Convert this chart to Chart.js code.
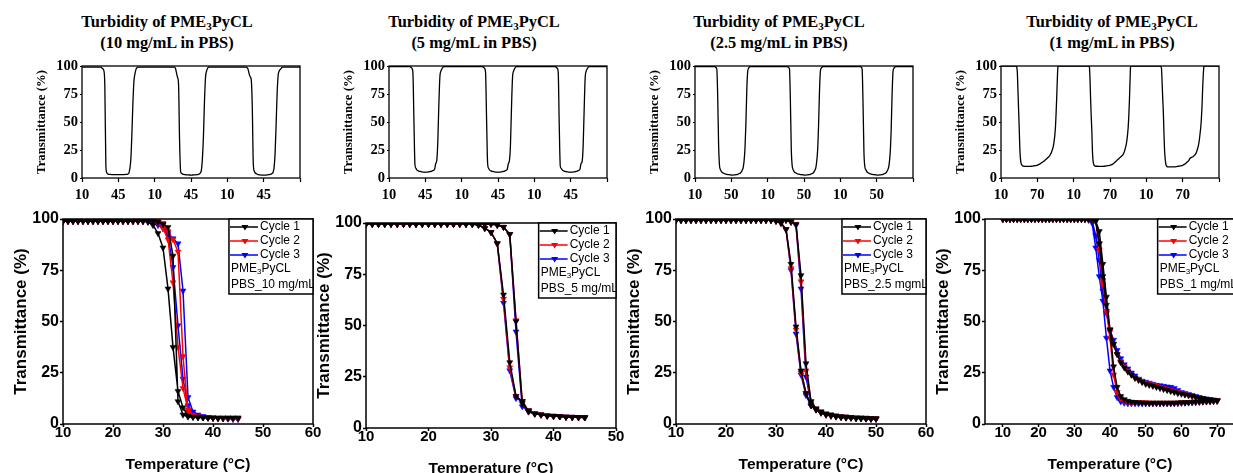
<!DOCTYPE html>
<html>
<head>
<meta charset="utf-8">
<script src="https://cdn.jsdelivr.net/npm/chart.js@4.4.1/dist/chart.umd.min.js"></script>
<style>
body { margin:0; width:1233px; height:473px; overflow:hidden; background:#fff; position:relative; }
canvas { position:absolute; }
.ttl { position:absolute; top:11px; width:300px; text-align:center; color:#000;
       font:bold 16.4px "Liberation Serif", "Times New Roman", serif; line-height:21px; }
.ttl sub { font-size:11px; line-height:0; vertical-align:-3px; }
</style>
</head>
<body>
<div class="ttl" style="left:17px">Turbidity of PME<sub>3</sub>PyCL<br>(10 mg/mL in PBS)</div>
<div class="ttl" style="left:324px">Turbidity of PME<sub>3</sub>PyCL<br>(5 mg/mL in PBS)</div>
<div class="ttl" style="left:629px">Turbidity of PME<sub>3</sub>PyCL<br>(2.5 mg/mL in PBS)</div>
<div class="ttl" style="left:962px">Turbidity of PME<sub>3</sub>PyCL<br>(1 mg/mL in PBS)</div>

<canvas id="top10" width="280" height="150" style="left:30px;top:55px"></canvas>
<canvas id="top5" width="280" height="150" style="left:337px;top:55px"></canvas>
<canvas id="top25" width="280" height="150" style="left:643px;top:55px"></canvas>
<canvas id="top1" width="280" height="150" style="left:949px;top:55px"></canvas>

<canvas id="bot10" width="325" height="273" style="left:0px;top:200px"></canvas>
<canvas id="bot5" width="325" height="273" style="left:303px;top:204px"></canvas>
<canvas id="bot25" width="325" height="273" style="left:613px;top:200px"></canvas>
<canvas id="bot1" width="325" height="273" style="left:922px;top:200px"></canvas>

<script>
// --- data ---
const cycleNames = ['Cycle 1', 'Cycle 2', 'Cycle 3'];
const cycleColors = ['#000000', '#ff0000', '#0000ff'];
const yTicks = [0, 25, 50, 75, 100];
const topTickPos = [0, 1, 2, 3, 4, 5, 6];

const temps45 = [10,11,12,13,14,15,16,17,18,19,20,21,22,23,24,25,26,27,28,29,30,31,32,33,34,35,36,37,38,39,40,41,42,43,44,45];
const temps50 = [10,11,12,13,14,15,16,17,18,19,20,21,22,23,24,25,26,27,28,29,30,31,32,33,34,35,36,37,38,39,40,41,42,43,44,45,46,47,48,49,50];
const temps70 = [10,11,12,13,14,15,16,17,18,19,20,21,22,23,24,25,26,27,28,29,30,31,32,33,34,35,36,37,38,39,40,41,42,43,44,45,46,47,48,49,50,51,52,53,54,55,56,57,58,59,60,61,62,63,64,65,66,67,68,69,70];

// 10 mg/mL (heating = higher-T branch, cooling = lower-T branch), values at temps45
const heat10c1 = [99,99,99,99,99,99,99,99,99,99,99,99,99,99,99,99,99,99,99,98.5,97.5,96,82,11,4.5,3.5,3.3,3.2,3.1,3,3,3,3,3,3,3];
const cool10c1 = [99,99,99,99,99,99,99,99,99,99,99,99,99,99,99,99,99,98.5,97,93,86,66,37.5,16,8,4,3.5,3.3,3.2,3.1,3,3,3,3,3,3];
const heat10c2 = [99,99,99,99,99,99,99,99,99,99,99,99,99,99,99,99,99,99,99,99,98,94,90,84,33,6,4,3.5,3.2,3,2.9,2.8,2.8,2.7,2.7,2.6];
const cool10c2 = [99,99,99,99,99,99,99,99,99,99,99,99,99,99,99,99,99,99,99,98,95.5,90,69,37.5,17.5,7,4.5,3.6,3.2,3,2.9,2.8,2.8,2.7,2.7,2.6];
const heat10c3 = [99,99,99,99,99,99,99,99,99,99,99,99,99,99,99,99,99,99,99,98.5,97,93,90.5,88,65,13,6,4.5,3.8,3.3,3,2.8,2.7,2.6,2.5,2.5];
const cool10c3 = [99,99,99,99,99,99,99,99,99,99,99,99,99,99,99,99,99,99,98,97,95.5,92,76.5,48,22,9,5,4,3.5,3.2,3,2.8,2.7,2.6,2.5,2.5];

// 5 mg/mL, values at temps45
const heat5c1 = [99.5,99.5,99.5,99.5,99.5,99.5,99.5,99.5,99.5,99.5,99.5,99.5,99.5,99.5,99.5,99.5,99.5,99.5,99.5,99.5,99.5,99,98,94.5,52,12,8.5,7,6.5,6,5.8,5.6,5.4,5.3,5.2,5.1];
const cool5c1 = [99.5,99.5,99.5,99.5,99.5,99.5,99.5,99.5,99.5,99.5,99.5,99.5,99.5,99.5,99.5,99.5,99.5,99.5,99,97.5,95.5,90,65,32,15.5,13,8,7,6.5,6,5.8,5.6,5.4,5.3,5.2,5.1];
const heat5c2 = [99.5,99.5,99.5,99.5,99.5,99.5,99.5,99.5,99.5,99.5,99.5,99.5,99.5,99.5,99.5,99.5,99.5,99.5,99.5,99.5,99.5,99,98,94.5,52.5,13,8.5,7,6.5,6,5.8,5.6,5.4,5.3,5.2,5.1];
const cool5c2 = [99.5,99.5,99.5,99.5,99.5,99.5,99.5,99.5,99.5,99.5,99.5,99.5,99.5,99.5,99.5,99.5,99.5,99.5,99,97.5,95.5,90,63,29.5,15.5,13,8,7,6.5,6,5.8,5.6,5.4,5.3,5.2,5.1];
const heat5c3 = [99.5,99.5,99.5,99.5,99.5,99.5,99.5,99.5,99.5,99.5,99.5,99.5,99.5,99.5,99.5,99.5,99.5,99.5,99.5,99.5,99.5,99,98,94.5,47,10.5,8.5,7,6.5,6,5.8,5.6,5.4,5.3,5.2,5.1];
const cool5c3 = [99.5,99.5,99.5,99.5,99.5,99.5,99.5,99.5,99.5,99.5,99.5,99.5,99.5,99.5,99.5,99.5,99.5,99.5,99,97.5,95.5,90,61,28,14.5,13,8,7,6.5,6,5.8,5.6,5.4,5.3,5.2,5.1];

// 2.5 mg/mL, values at temps50
const heat25c1 = [99.5,99.5,99.5,99.5,99.5,99.5,99.5,99.5,99.5,99.5,99.5,99.5,99.5,99.5,99.5,99.5,99.5,99.5,99.5,99.5,99.5,99.5,99.5,98.5,97.5,72.5,29.5,11,7.5,6,5,4.5,4,3.7,3.5,3.3,3.1,3,2.9,2.8,2.7];
const cool25c1 = [99.5,99.5,99.5,99.5,99.5,99.5,99.5,99.5,99.5,99.5,99.5,99.5,99.5,99.5,99.5,99.5,99.5,99.5,99.5,99.5,99,98,95,78,47.5,26,15,9,7,5.5,4.5,4,3.6,3.3,3.1,3,2.8,2.7,2.6,2.5,2.5];
const heat25c2 = [99.5,99.5,99.5,99.5,99.5,99.5,99.5,99.5,99.5,99.5,99.5,99.5,99.5,99.5,99.5,99.5,99.5,99.5,99.5,99.5,99.5,99.5,99.5,98.5,97.5,69.5,26,11,7.5,6,5,4.5,4,3.7,3.5,3.3,3.1,3,2.9,2.8,2.7];
const cool25c2 = [99.5,99.5,99.5,99.5,99.5,99.5,99.5,99.5,99.5,99.5,99.5,99.5,99.5,99.5,99.5,99.5,99.5,99.5,99.5,99.5,99,98,95,76,46,25,15,9,7,5.5,4.5,4,3.6,3.3,3.1,3,2.8,2.7,2.6,2.5,2.5];
const heat25c3 = [99.5,99.5,99.5,99.5,99.5,99.5,99.5,99.5,99.5,99.5,99.5,99.5,99.5,99.5,99.5,99.5,99.5,99.5,99.5,99.5,99.5,99.5,99.5,99,97,66,23,10,7.5,6,5,4.5,4,3.7,3.5,3.3,3.1,3,2.9,2.8,2.7];
const cool25c3 = [99.5,99.5,99.5,99.5,99.5,99.5,99.5,99.5,99.5,99.5,99.5,99.5,99.5,99.5,99.5,99.5,99.5,99.5,99.5,99.5,99,98,95,75,44,24,14,9,7,5.5,4.5,4,3.6,3.3,3.1,3,2.8,2.7,2.6,2.5,2.5];

// 1 mg/mL, values at temps70 (heating = sharp branch, cooling = branch with the slow tail)
const heat1c1 = [100,100,100,100,100,100,100,100,100,100,100,100,100,100,100,100,100,100,100,100,100,100,100,100,100,100,
  99,94,78,62,46,28,18,13.5,12,11.2,10.8,10.6,10.5,10.4,10.3,
  10.3,10.3,10.3,10.3,10.3,10.3,10.3,10.3,
  10.4,10.5,10.5,10.6,10.7,10.8,10.9,11,11,11.1,11.2,11.3];
const cool1c1 = [100,100,100,100,100,100,100,100,100,100,100,100,100,100,100,100,100,100,100,100,100,100,100,100,100,100,
  99,88,72,58,46,39,34,30,27.5,25.5,24,22.5,21.5,20.5,19.5,19,18.5,18,17.5,17,16.5,16,15.5,15,
  14.7,14.3,14,13.6,13.2,12.8,12.5,12.2,12,11.7,11.5];
const heat1c2 = [100,100,100,100,100,100,100,100,100,100,100,100,100,100,100,100,100,100,100,100,100,100,100,100,100,100,
  99,88,70,55,42,24,15.5,12.5,11.2,10.8,10.5,10.5,10.5,10.5,10.5,
  10.3,10.3,10.3,10.3,10.3,10.3,10.3,10.3,
  10.4,10.5,10.5,10.6,10.7,10.8,10.9,11,11,11.1,11.2,11.3];
const cool1c2 = [100,100,100,100,100,100,100,100,100,100,100,100,100,100,100,100,100,100,100,100,100,100,100,100,100,100,
  99.5,85,68,55,45,39,34,30.5,28,26,24,22.5,21.5,20.5,20,19.5,19,18.5,18,17.5,17,16.5,16,15.5,
  15,14.5,14,13.5,13,12.6,12.3,12,11.8,11.6,11.5];
const heat1c3 = [100,100,100,100,100,100,100,100,100,100,100,100,100,100,100,100,100,100,100,100,100,100,100,100,
  99.5,98,86,72,60,42,26,18,13,11,10.3,
  10,10,10,10,10,10,10,10,10,10,10,10,10,10,
  10.1,10.2,10.3,10.4,10.5,10.6,10.7,10.8,10.9,11,11.1,11.2];
const cool1c3 = [100,100,100,100,100,100,100,100,100,100,100,100,100,100,100,100,100,100,100,100,100,100,100,100,100,
  99,92,80,65,54,46,41,36,32,29,27,25,23.5,22,21,20.5,20,19.5,19,18.8,18.5,18.2,18,17.5,16.5,
  15.5,15,14.5,14,13.5,13,12.6,12.3,12,11.8,11.6];

const xTicks10 = [10, 20, 30, 40, 50, 60];
const xTicks5 = [10, 20, 30, 40, 50];
const xTicks25 = [10, 20, 30, 40, 50, 60];
const xTicks1 = [10, 20, 30, 40, 50, 60, 70];
const topLabels10 = ['10', '45', '10', '45', '10', '45', ''];
const topLabels5 = ['10', '45', '10', '45', '10', '45', ''];
const topLabels25 = ['10', '50', '10', '50', '10', '50', ''];
const topLabels1 = ['10', '70', '10', '70', '10', '70', ''];

const SANS = '"Liberation Sans", Arial, sans-serif';
const SERIF = '"Liberation Serif", "Times New Roman", serif';

// box round the plot area
const frame = {
  id: 'frame',
  afterDatasetsDraw(chart, args, opts) {
    const { ctx, chartArea: a } = chart;
    ctx.save();
    ctx.strokeStyle = '#000';
    ctx.lineWidth = opts.width || 1.5;
    ctx.strokeRect(a.left, a.top, a.right - a.left, a.bottom - a.top);
    ctx.restore();
  }
};

function downTriangle(ctx, x, y, r, color) {
  ctx.beginPath();
  ctx.moveTo(x - r, y - r * 0.6);
  ctx.lineTo(x + r, y - r * 0.6);
  ctx.lineTo(x, y + r);
  ctx.closePath();
  ctx.fillStyle = color;
  ctx.fill();
}

// boxed legend in the top right corner, with the sample notes
const boxLegend = {
  id: 'boxLegend',
  afterDraw(chart, args, opts) {
    if (!opts.note) return;
    const { ctx, chartArea: a } = chart;
    ctx.save();
    ctx.font = '12px ' + SANS;
    const w = ctx.measureText(opts.note).width;
    const x0 = a.right - w, y0 = a.top, h = 75;
    ctx.fillStyle = '#fff';
    ctx.fillRect(x0, y0, w, h);
    ctx.beginPath();
    ctx.rect(x0, y0, w, h);
    ctx.clip();
    ctx.textBaseline = 'middle';
    chart.data.datasets.forEach((ds, i) => {
      const y = y0 + 8 + i * 14;
      ctx.strokeStyle = ds.borderColor;
      ctx.lineWidth = 1.5;
      ctx.beginPath();
      ctx.moveTo(x0 + 1, y);
      ctx.lineTo(x0 + 29, y);
      ctx.stroke();
      downTriangle(ctx, x0 + 16, y, 3.5, ds.borderColor);
      ctx.fillStyle = '#000';
      ctx.fillText(ds.label, x0 + 31, y);
    });
    let x = x0 + 2, y = y0 + 50;
    ctx.fillStyle = '#000';
    ctx.fillText('PME', x, y);
    x += ctx.measureText('PME').width;
    ctx.font = '8px ' + SANS;
    ctx.fillText('3', x, y + 3);
    x += ctx.measureText('3').width;
    ctx.font = '12px ' + SANS;
    ctx.fillText('PyCL', x, y);
    ctx.fillText(opts.note, x0 + 2, y0 + 66);
    ctx.restore();
    ctx.save();
    ctx.strokeStyle = '#000';
    ctx.lineWidth = 1.5;
    ctx.strokeRect(x0, y0, w, h);
    ctx.restore();
  }
};

function bottomChart(id, temps, heats, cools, xMin, xMax, xTicks, note) {
  const datasets = cycleNames.map((name, i) => {
    const pts = temps.map((t, k) => ({ x: t, y: heats[i][k] }));
    for (let k = temps.length - 1; k >= 0; k--) pts.push({ x: temps[k], y: cools[i][k] });
    return {
      label: name,
      data: pts,
      borderColor: cycleColors[i],
      backgroundColor: cycleColors[i],
      borderWidth: 1.5,
      pointStyle: 'triangle',
      pointRotation: 180,
      pointRadius: 3.5,
      pointBorderWidth: 0.5,
      tension: 0
    };
  });
  new Chart(document.getElementById(id), {
    type: 'line',
    data: { datasets },
    options: {
      responsive: false,
      animation: false,
      layout: { padding: { left: 4, right: 12, top: 19, bottom: 1 } },
      plugins: {
        legend: { display: false },
        tooltip: { enabled: false },
        boxLegend: { note },
        frame: { width: 1.5 }
      },
      scales: {
        x: {
          type: 'linear', min: xMin, max: xMax,
          afterBuildTicks: s => { s.ticks = xTicks.map(v => ({ value: v })); },
          afterFit: s => { s.height = 48; },
          border: { display: false },
          grid: { drawOnChartArea: false, tickLength: 3, color: '#000', tickWidth: 1.5 },
          ticks: { padding: -3, color: '#000', font: { family: SANS, weight: 'bold', size: 15 } },
          title: { display: true, text: 'Temperature (°C)', color: '#000', padding: 0,
                   font: { family: SANS, weight: 'bold', size: 15.5, lineHeight: 1 } }
        },
        y: {
          min: 0, max: 100,
          afterBuildTicks: s => { s.ticks = yTicks.map(v => ({ value: v })); },
          afterFit: s => { s.width = 59; },
          border: { display: false },
          grid: { drawOnChartArea: false, tickLength: 3, color: '#000', tickWidth: 1.5 },
          ticks: { padding: 1, color: '#000', font: { family: SANS, weight: 'bold', size: 16 } },
          title: { display: true, text: 'Transmittance (%)', color: '#000', padding: { top: 8.5, bottom: 0 },
                   font: { family: SANS, weight: 'bold', size: 17, lineHeight: 1 } }
        }
      }
    },
    plugins: [frame, boxLegend]
  });
}

function topChart(id, temps, heats, cools, labels) {
  const tMin = temps[0], span = temps[temps.length - 1] - temps[0];
  const pts = [];
  heats.forEach((h, c) => {
    temps.forEach((t, k) => pts.push({ x: 2 * c + (t - tMin) / span, y: h[k] }));
    for (let k = temps.length - 1; k >= 0; k--) {
      pts.push({ x: 2 * c + 2 - (temps[k] - tMin) / span, y: cools[c][k] });
    }
  });
  const trace = pts.filter((p, i) => i === 0 || p.x !== pts[i - 1].x);
  new Chart(document.getElementById(id), {
    type: 'line',
    data: {
      datasets: [{
        data: trace,
        borderColor: '#000',
        borderWidth: 1.3,
        pointRadius: 0,
        cubicInterpolationMode: 'monotone'
      }]
    },
    options: {
      responsive: false,
      animation: false,
      layout: { padding: { left: 2, right: 10, top: 11, bottom: 2 } },
      plugins: {
        legend: { display: false },
        tooltip: { enabled: false },
        frame: { width: 1.3 }
      },
      scales: {
        x: {
          type: 'linear', min: 0, max: 6,
          afterBuildTicks: s => { s.ticks = topTickPos.map(v => ({ value: v })); },
          afterFit: s => { s.height = 25; },
          border: { display: false },
          grid: { drawOnChartArea: false, tickLength: 4, color: '#000', tickWidth: 1.2 },
          ticks: { padding: 5, color: '#000', callback: v => labels[v] || '',
                   font: { family: SERIF, weight: 'bold', size: 14.5 } }
        },
        y: {
          min: 0, max: 100,
          afterBuildTicks: s => { s.ticks = yTicks.map(v => ({ value: v })); },
          afterFit: s => { s.width = 50; },
          border: { display: false },
          grid: { drawOnChartArea: false, tickLength: 2, color: '#000', tickWidth: 1.2 },
          ticks: { padding: 2, color: '#000', font: { family: SERIF, weight: 'bold', size: 14.5 } },
          title: { display: true, text: 'Transmittance (%)', color: '#000', padding: { top: 3.6, bottom: 0 },
                   font: { family: SERIF, weight: 'bold', size: 12.8, lineHeight: 1 } }
        }
      }
    },
    plugins: [frame]
  });
}

topChart('top10', temps45, [heat10c1, heat10c2, heat10c3], [cool10c1, cool10c2, cool10c3], topLabels10);
topChart('top5', temps45, [heat5c1, heat5c2, heat5c3], [cool5c1, cool5c2, cool5c3], topLabels5);
topChart('top25', temps50, [heat25c1, heat25c2, heat25c3], [cool25c1, cool25c2, cool25c3], topLabels25);
topChart('top1', temps70, [heat1c1, heat1c2, heat1c3], [cool1c1, cool1c2, cool1c3], topLabels1);

bottomChart('bot10', temps45, [heat10c1, heat10c2, heat10c3], [cool10c1, cool10c2, cool10c3], 10, 60, xTicks10, 'PBS_10 mg/mL');
bottomChart('bot5', temps45, [heat5c1, heat5c2, heat5c3], [cool5c1, cool5c2, cool5c3], 10, 50, xTicks5, 'PBS_5 mg/mL');
bottomChart('bot25', temps50, [heat25c1, heat25c2, heat25c3], [cool25c1, cool25c2, cool25c3], 10, 60, xTicks25, 'PBS_2.5 mgmL');
bottomChart('bot1', temps70, [heat1c1, heat1c2, heat1c3], [cool1c1, cool1c2, cool1c3], 5, 75, xTicks1, 'PBS_1 mg/mL');
</script>
</body>
</html>
